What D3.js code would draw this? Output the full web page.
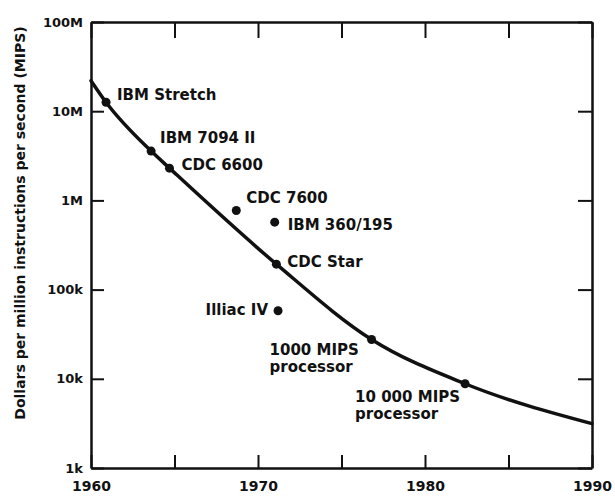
<!DOCTYPE html>
<html>
<head>
<meta charset="utf-8">
<script src="https://cdn.jsdelivr.net/npm/d3@7"></script>
<style>
  body { margin: 0; background: #fff; }
  svg text { font-family: "DejaVu Sans", sans-serif; font-weight: bold; fill: #111; }
</style>
</head>
<body>
<div id="chart"></div>
<script>
// curve through the machines, year vs dollars per MIPS
var curveYears = [1960, 1960.9, 1963.6, 1964.7, 1971.1, 1976.8, 1982.4, 1990];
var curveCost = [22e6, 12.6e6, 3.57e6, 2.3e6, 193e3, 27.6e3, 8.8e3, 3.14e3];

// labelled machines
var machines = ["IBM Stretch", "IBM 7094 II", "CDC 6600", "CDC 7600", "IBM 360/195", "CDC Star", "Illiac IV", "1000 MIPS|processor", "10 000 MIPS|processor"];
var machineYears = [1960.9, 1963.6, 1964.7, 1968.7, 1971.0, 1971.1, 1971.2, 1976.8, 1982.4];
var machineCost = [12.6e6, 3.57e6, 2.3e6, 0.77e6, 0.57e6, 193e3, 58e3, 27.6e3, 8.8e3];

var yTicks = [1e3, 1e4, 1e5, 1e6, 1e7, 1e8];
var yTickLabels = ["1k", "10k", "100k", "1M", "10M", "100M"];
var xTicks = [1960, 1965, 1970, 1975, 1980, 1985, 1990];
var xTickLabels = ["1960", "", "1970", "", "1980", "", "1990"];

// label placement relative to each dot: [dx, dy, anchor]
var labelOffsets = [
    [11, -2, "start"], [9, -8, "start"], [12, 2, "start"], [10, -8, "start"],
    [13, 8, "start"], [11, 3, "start"], [-10, 4, "end"], [-102, 16, "start"], [-110, 18, "start"]
];

(function () {
    var margin = { top: 22, left: 91, right: 23, bottom: 31 },
        width = 615 - margin.left - margin.right,
        height = 499 - margin.top - margin.bottom;

    var svg = d3.select("#chart")
        .append("svg")
        .attr("width", 615)
        .attr("height", 499)
        .append("g")
        .attr("transform", "translate(" + margin.left + "," + margin.top + ")");

    var x = d3.scaleLinear().domain([1960, 1990]).range([0, width]);
    var y = d3.scaleLog().domain([1e3, 1e8]).range([height, 0]);

    function yLabel(d) { return yTickLabels[yTicks.indexOf(d)]; }
    function xLabel(d) { return xTickLabels[xTicks.indexOf(d)]; }

    // axes, ticks pointing inward
    var axLeft = svg.append("g")
        .call(d3.axisLeft(y).tickValues(yTicks).tickFormat(yLabel).tickSizeInner(-13).tickSizeOuter(0).tickPadding(8));
    var axRight = svg.append("g")
        .attr("transform", "translate(" + width + ",0)")
        .call(d3.axisLeft(y).tickValues(yTicks).tickFormat("").tickSizeInner(14).tickSizeOuter(0));
    var axBottom = svg.append("g")
        .attr("transform", "translate(0," + height + ")")
        .call(d3.axisBottom(x).tickValues(xTicks).tickFormat(xLabel).tickSizeInner(-13).tickSizeOuter(0).tickPadding(13));
    var axTop = svg.append("g")
        .call(d3.axisTop(x).tickValues(xTicks).tickFormat("").tickSizeInner(-16).tickSizeOuter(0));

    [axLeft, axRight, axBottom, axTop].forEach(function (g) {
        g.attr("font-family", null);
        g.select(".domain").attr("stroke", "#111").attr("stroke-width", 2.5);
        g.selectAll(".tick line").attr("stroke", "#111").attr("stroke-width", 2);
    });
    axLeft.attr("font-size", 13);
    axBottom.attr("font-size", 14);

    // y title
    svg.append("text")
        .attr("transform", "rotate(-90)")
        .attr("x", -height / 2 + 22)
        .attr("y", -66)
        .attr("text-anchor", "middle")
        .attr("font-size", 14)
        .text("Dollars per million instructions per second (MIPS)");

    // cost curve
    var line = d3.line()
        .x(function (d) { return x(d[0]); })
        .y(function (d) { return y(d[1]); })
        .curve(d3.curveMonotoneX);

    svg.append("path")
        .datum(d3.zip(curveYears, curveCost))
        .attr("d", line)
        .attr("fill", "none")
        .attr("stroke", "#111")
        .attr("stroke-width", 3.5)
        .attr("stroke-linecap", "round");

    var pts = machines.map(function (name, i) {
        return { name: name, year: machineYears[i], cost: machineCost[i], off: labelOffsets[i] };
    });

    svg.selectAll(".dot")
        .data(pts)
        .enter().append("circle")
        .attr("class", "dot")
        .attr("cx", function (d) { return x(d.year); })
        .attr("cy", function (d) { return y(d.cost); })
        .attr("r", 4.5)
        .attr("fill", "#111");

    var labels = svg.selectAll(".label")
        .data(pts)
        .enter().append("text")
        .attr("class", "label")
        .attr("text-anchor", function (d) { return d.off[2]; })
        .attr("font-size", 15);

    labels.each(function (d) {
        var t = d3.select(this);
        d.name.split("|").forEach(function (part, k) {
            t.append("tspan")
                .attr("x", x(d.year) + d.off[0])
                .attr("y", y(d.cost) + d.off[1] + k * 17)
                .text(part);
        });
    });
})();
</script>
</body>
</html>
